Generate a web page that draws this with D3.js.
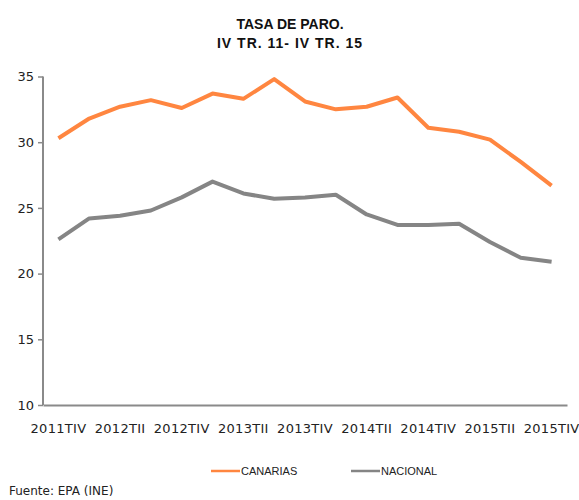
<!DOCTYPE html>
<html>
<head>
<meta charset="utf-8">
<script src="https://cdn.jsdelivr.net/npm/d3@7"></script>
<style>
  body { margin: 0; background: #fff; }
  svg { display: block; }
</style>
</head>
<body>
<svg width="579" height="500"></svg>
<script>
const width = 579;
const height = 500;

const quarters = ["2011TIV", "2012TI", "2012TII", "2012TIII", "2012TIV", "2013TI", "2013TII", "2013TIII",
  "2013TIV", "2014TI", "2014TII", "2014TIII", "2014TIV", "2015TI", "2015TII", "2015TIII", "2015TIV"];
const canarias = [30.3, 31.8, 32.7, 33.2, 32.6, 33.7, 33.3, 34.8, 33.1, 32.5, 32.7, 33.4, 31.1, 30.8, 30.2, 28.5, 26.7];
const nacional = [22.6, 24.2, 24.4, 24.8, 25.8, 27.0, 26.1, 25.7, 25.8, 26.0, 24.5, 23.7, 23.7, 23.8, 22.4, 21.2, 20.9];
const yTicks = [10, 15, 20, 25, 30, 35];

const orange = "#FF8640";
const grey = "#858585";
const axis_grey = "#8a8a8a";
const font = "DejaVu Sans, Verdana, sans-serif";

let svg = d3.select("svg");

let x = d3.scaleBand().domain(quarters).range([43, 567]);
let y = d3.scaleLinear().domain([10, 35]).range([405, 76.5]);

// title
svg.append("text")
  .attr("x", 290).attr("y", 29)
  .attr("text-anchor", "middle")
  .style("font-family", "Liberation Sans, Arial, sans-serif")
  .style("font-weight", "bold")
  .style("font-size", "14px")
  .attr("fill", "#111")
  .text("TASA DE PARO.");
svg.append("text")
  .attr("x", 290).attr("y", 48)
  .attr("text-anchor", "middle")
  .style("font-family", "Liberation Sans, Arial, sans-serif")
  .style("font-weight", "bold")
  .style("font-size", "14px")
  .style("letter-spacing", "1px")
  .attr("fill", "#111")
  .text("IV TR. 11- IV TR. 15");

// y axis
let yAxis = svg.append("g")
  .attr("transform", "translate(43,0)")
  .call(d3.axisLeft(y).tickValues(yTicks).tickSize(5).tickPadding(4));
yAxis.select(".domain").attr("stroke", axis_grey).attr("stroke-width", 2).attr("d", `M0,${y(35)}V${y(10)}`);
yAxis.selectAll(".tick line").attr("stroke", axis_grey).attr("stroke-width", 1.5);
yAxis.selectAll(".tick text")
  .style("font-family", font).style("font-size", "13px").attr("fill", "#222");

// x axis
let xAxis = svg.append("g")
  .attr("transform", `translate(0,${y(10)})`)
  .call(d3.axisBottom(x)
    .tickValues(quarters.filter((d, i) => i % 2 === 0))
    .tickSize(0).tickPadding(19));
xAxis.select(".domain").attr("stroke", axis_grey).attr("stroke-width", 2);
xAxis.selectAll(".tick text")
  .style("font-family", font).style("font-size", "13px")
  .style("letter-spacing", "0.3px").attr("fill", "#222");

// lines
let line = d3.line()
  .x((d, i) => x(quarters[i]) + x.bandwidth() / 2)
  .y(d => y(d));

svg.append("path")
  .datum(nacional)
  .attr("d", line)
  .attr("fill", "none")
  .attr("stroke", grey)
  .attr("stroke-width", 4)
  .attr("stroke-linejoin", "round");

svg.append("path")
  .datum(canarias)
  .attr("d", line)
  .attr("fill", "none")
  .attr("stroke", orange)
  .attr("stroke-width", 4)
  .attr("stroke-linejoin", "round");

// legend
const legend = [
  { name: "CANARIAS", color: orange, x: 211 },
  { name: "NACIONAL", color: grey, x: 351 }
];
let lg = svg.append("g");
legend.forEach(d => {
  lg.append("line")
    .attr("x1", d.x).attr("x2", d.x + 29)
    .attr("y1", 471).attr("y2", 471)
    .attr("stroke", d.color).attr("stroke-width", 2.5);
  lg.append("text")
    .attr("x", d.x + 30).attr("y", 475)
    .style("font-family", "Liberation Sans, Arial, sans-serif")
    .style("font-size", "11px")
    .attr("fill", "#222")
    .text(d.name);
});

// source
svg.append("text")
  .attr("x", 9).attr("y", 495)
  .style("font-family", font)
  .style("font-size", "12px")
  .attr("fill", "#222")
  .text("Fuente: EPA (INE)");
</script>
</body>
</html>
